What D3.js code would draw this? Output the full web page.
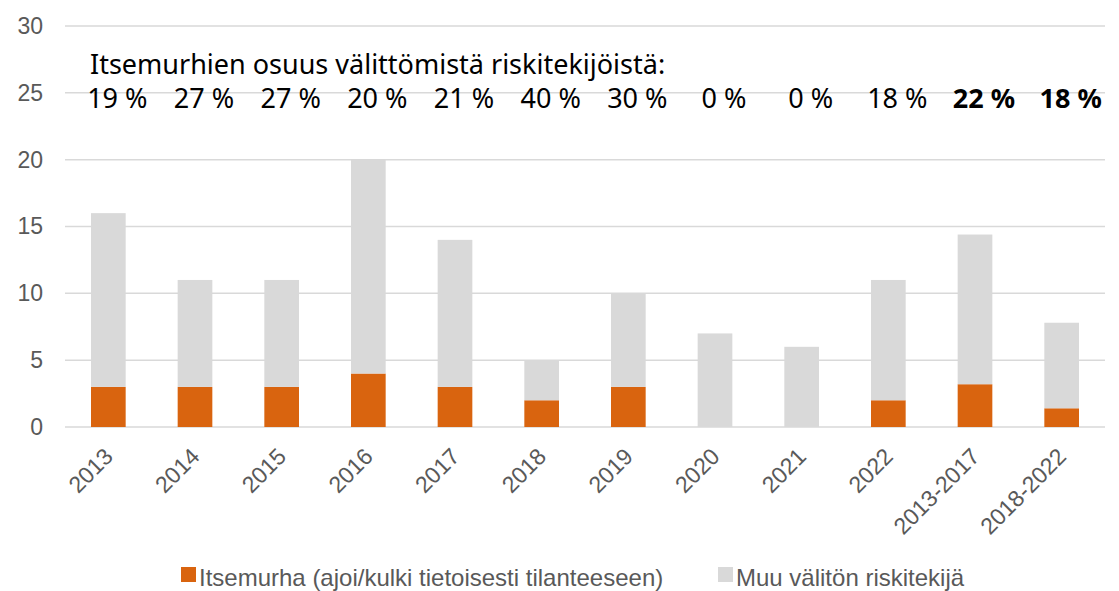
<!DOCTYPE html>
<meta charset="utf-8">
<style>
body { margin: 0; background: #fff; }
.grid line { stroke: #d9d9d9; stroke-width: 1.5px; }
.tick text { fill: #595959; font-family: 'Liberation Sans', Arial, sans-serif; font-size: 23px; }
.note { font-family: 'Noto Sans', 'Open Sans', sans-serif; fill: #000; }
.legend text { fill: #595959; font-family: 'Liberation Sans', Arial, sans-serif; font-size: 24px; }
</style>
<svg id="chart" width="1119" height="591"></svg>
<script src="https://d3js.org/d3.v7.min.js"></script>
<script>
// values
var categories = ["2013", "2014", "2015", "2016", "2017", "2018", "2019", "2020", "2021", "2022", "2013-2017", "2018-2022"];
var suicide = [3, 3, 3, 4, 3, 2, 3, 0, 0, 2, 3.2, 1.4];
var other = [13, 8, 8, 16, 11, 3, 7, 7, 6, 9, 11.2, 6.4];
var shares = ["19 %", "27 %", "27 %", "20 %", "21 %", "40 %", "30 %", "0 %", "0 %", "18 %", "22 %", "18 %"];
var yTicks = [0, 5, 10, 15, 20, 25, 30];
var seriesNames = ["Itsemurha (ajoi/kulki tietoisesti tilanteeseen)", "Muu välitön riskitekijä"];
var colors = ["#d9640f", "#d9d9d9"];

var svg = d3.select("#chart");
var mLeft = 65, mRight = 1105, mTop = 26, mBottom = 427;

var x = d3.scaleBand().domain(categories).range([mLeft, mRight]).paddingInner(0.6).paddingOuter(0.3);
var y = d3.scaleLinear().domain([0, 30]).range([mBottom, mTop]);

// gridlines + y labels
var grid = svg.append("g").attr("class", "grid");
grid.selectAll("line").data(yTicks).enter().append("line")
    .attr("x1", mLeft).attr("x2", mRight)
    .attr("y1", function(d) { return y(d); })
    .attr("y2", function(d) { return y(d); });

var yAxis = svg.append("g")
    .attr("transform", "translate(" + (mLeft - 22) + ",0)")
    .call(d3.axisLeft(y).tickValues(yTicks).tickSize(0).tickPadding(0));
yAxis.select(".domain").remove();

// stacked bars
var rows = categories.map(function(c, i) { return { cat: c, a: suicide[i], b: other[i] }; });
var stack = d3.stack().keys(["a", "b"])(rows);

svg.append("g").selectAll("g").data(stack).enter().append("g")
    .attr("fill", function(d, i) { return colors[i]; })
  .selectAll("rect").data(function(d) { return d; }).enter().append("rect")
    .attr("x", function(d) { return x(d.data.cat); })
    .attr("width", x.bandwidth())
    .attr("y", function(d) { return y(d[1]); })
    .attr("height", function(d) { return y(d[0]) - y(d[1]); });

// x axis labels, rotated
var xAxis = svg.append("g")
    .attr("transform", "translate(0," + mBottom + ")")
    .call(d3.axisBottom(x).tickSize(0).tickPadding(0));
xAxis.select(".domain").remove();
xAxis.selectAll("text")
    .attr("text-anchor", "end")
    .attr("y", 0)
    .attr("dy", 0)
    .attr("transform", "translate(6,31) rotate(-45)");

// annotation
svg.append("text").attr("class", "note")
    .attr("x", 90).attr("y", 74)
    .style("font-size", "27px")
    .text("Itsemurhien osuus välittömistä riskitekijöistä:");

svg.append("g").selectAll("text").data(shares).enter().append("text")
    .attr("class", "note")
    .attr("x", function(d, i) { return x(categories[i]) + x.bandwidth() / 2 + 9; })
    .attr("y", 108)
    .attr("text-anchor", "middle")
    .style("font-size", "27px")
    .style("font-weight", function(d, i) { return i >= 10 ? "bold" : "normal"; })
    .text(function(d) { return d; });

// legend
var legend = svg.append("g").attr("class", "legend");
var legendX = [181, 718];
seriesNames.forEach(function(name, i) {
  var g = legend.append("g").attr("transform", "translate(" + legendX[i] + ",567)");
  g.append("rect").attr("width", 15).attr("height", 15).attr("fill", colors[i]);
  g.append("text").attr("x", 18).attr("y", 19).text(name);
});
</script>
